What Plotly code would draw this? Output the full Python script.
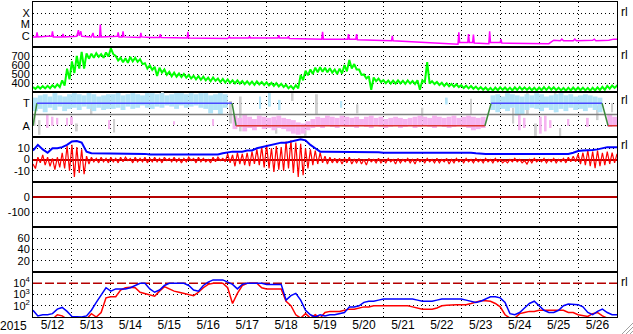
import plotly.graph_objects as go
from plotly.subplots import make_subplots

# ---------------- data (hours from 2015-05-12 00:00) ----------------
STEP_H = 3
day_labels = ["5/12", "5/13", "5/14", "5/15", "5/16", "5/17", "5/18", "5/19",
              "5/20", "5/21", "5/22", "5/23", "5/24", "5/25", "5/26"]

# GOES X-ray flux, log10 (W/m2), irregular samples (hour, value)
xray_t = [0, 2, 2.5, 3, 9, 11.5, 12, 12.5, 15, 18, 18.5, 19, 27, 28, 28.5, 29.5, 30,
          36, 37, 37.5, 41, 41.5, 42, 52, 52.5, 53, 55, 55.5, 56, 66, 66.5, 67, 72,
          78, 78.5, 79, 95, 95.5, 96, 120, 121, 121.5, 133, 133.5, 134, 151, 151.5,
          152, 157, 157.5, 158, 178, 178.5, 179, 194, 194.5, 195, 199, 199.5, 200,
          221, 221.5, 222, 260, 262, 262.5, 263, 268, 268.5, 269, 271, 271.5, 272,
          281, 281.5, 282, 288, 288.5, 289, 318, 320, 321, 325, 326, 327, 333, 334,
          335, 345, 346, 347, 355, 358, 360]
xray_log = [-6.1, -6.1, -5.7, -6.1, -6.05, -6.05, -5.6, -6.1, -6.1, -6.1, -5.85, -6.1,
            -6.05, -5.5, -6.0, -5.6, -6.05, -6.1, -5.75, -6.1, -6.1, -5.0, -6.1, -6.05,
            -5.7, -6.1, -6.1, -5.6, -6.1, -6.15, -5.75, -6.1, -6.15, -6.15, -5.85,
            -6.15, -6.2, -5.65, -6.2, -6.25, -6.1, -6.2, -6.2, -6.05, -6.2, -6.2,
            -5.95, -6.2, -6.2, -6.05, -6.25, -6.3, -5.65, -6.3, -6.3, -5.85, -6.3,
            -6.3, -5.85, -6.35, -6.45, -6.0, -6.45, -6.7, -6.75, -5.7, -6.6, -6.6,
            -5.85, -6.6, -6.6, -5.9, -6.65, -6.7, -5.6, -6.6, -6.6, -6.3, -6.65,
            -6.7, -6.5, -6.4, -6.45, -6.3, -6.45, -6.45, -6.3, -6.45, -6.4, -6.3,
            -6.45, -6.4, -6.3, -6.3]

# solar wind speed (km/s): highest and lowest value within each 3-hour bin
speed_hi = [
    355, 362, 365, 368, 375, 385, 430, 560,
    640, 700, 745, 730, 725, 730, 720, 740,
    785, 700, 680, 675, 690, 680, 665, 620,
    595, 580, 570, 550, 525, 515, 505, 500,
    490, 480, 475, 470, 460, 462, 450, 445,
    440, 430, 428, 422, 418, 415, 418, 412,
    408, 402, 398, 392, 380, 368, 375, 490,
    535, 550, 570, 575, 570, 565, 550, 560,
    600, 655, 610, 550, 495, 475, 462, 450,
    432, 428, 426, 430, 425, 428, 422, 430,
    430, 633, 420, 412, 402, 396, 390, 386,
    376, 370, 366, 360, 354, 350, 346, 350,
    352, 350, 348, 352, 356, 352, 350, 348,
    350, 354, 356, 352, 348, 346, 348, 350,
    350, 348, 346, 348, 352, 358, 368, 372,
    370]
speed_lo = [
    335, 338, 340, 342, 350, 355, 370, 440,
    510, 560, 560, 670, 680, 690, 680, 695,
    720, 650, 630, 625, 640, 635, 610, 560,
    545, 478, 515, 490, 475, 470, 465, 460,
    450, 440, 435, 430, 420, 425, 410, 405,
    402, 395, 392, 388, 384, 380, 384, 378,
    372, 368, 362, 356, 342, 335, 340, 430,
    485, 500, 520, 525, 520, 515, 500, 505,
    530, 560, 550, 490, 450, 325, 420, 410,
    398, 392, 394, 396, 390, 394, 388, 325,
    405, 394, 388, 378, 368, 364, 358, 354,
    344, 340, 336, 330, 325, 320, 316, 320,
    324, 320, 318, 322, 325, 323, 320, 318,
    320, 322, 325, 321, 318, 315, 317, 320,
    320, 318, 315, 317, 320, 325, 338, 345,
    345]

# IMF magnitude Bt (nT), 3-hour samples
imf_bt = [
    8, 13, 9, 6, 10, 10, 11, 13,
    16, 16.5, 15, 7, 5.5, 5.5, 5.5, 5.5,
    5.5, 5.5, 5.5, 5, 5, 5, 5, 5,
    4.5, 4.5, 4.5, 4.5, 4.5, 4.5, 4.5, 4.5,
    4.2, 4.2, 4.2, 4.2, 4.2, 4.2, 4.5, 5.5,
    6.5, 7, 7, 7, 8, 8, 10, 11,
    12, 13, 14, 15, 15, 16, 17, 18,
    17, 13, 10, 7, 7, 7, 7, 7,
    7, 7, 7, 7, 7, 6.8, 6.8, 6.5,
    6, 6, 6, 6, 6, 6, 6, 6.5,
    6.5, 6.5, 6.5, 6.5, 6.5, 6.5, 6.5, 6.5,
    6.5, 6.5, 6, 5.5, 5, 5, 5, 5,
    5, 5, 5, 5, 5, 5, 5, 5,
    5, 5, 5, 5, 5, 5, 5, 6,
    7.5, 8, 8, 8.5, 9, 10, 11, 11,
    11]
# IMF Bz (nT): highest and lowest value within each 3-hour bin
bz_hi = [
    -4, 2, 4, 2, 1, 2, 6, 12,
    13, 11, 9, 3, 2, 1, 2, 1,
    2, 1, 2, 2, 1, 2, 1, 2,
    1, 2, 1, 2, 1, 2, 1, 1,
    2, 1, 2, 1, 0, 2, 2, 1,
    5, 4, 6, 5, 6, 7, 9, 11,
    13, 10, 12, 11, 16, 17, 15, 14,
    10, 9, 8, 6, 3, 2, 1, 1,
    1, 2, 0, 1, 0, 1, 0, 1,
    0, 1, 0, 1, 0, 1, 0, 1,
    0, 1, 0, 1, 0, 1, 0, 1,
    0, 1, 0, 1, 0, 1, 0, 1,
    0, -1, 0, 1, 0, -1, 0, 1,
    0, 1, 0, 1, 0, 1, 2, 3,
    5, 6, 8, 7, 8, 6, 7, 6,
    5]
bz_lo = [
    -8, -3, -5, -6, -9, -7, -8, -10,
    -15.5, -12, -13, -4, -2, -3, -2, -3,
    -2, -3, -2, -1, -3, -2, -2, -3,
    -2, -2, -3, -1, -2, -2, -3, -2,
    -1, -3, -2, -2, -3, -2, -1, -2,
    -3, -6, -4, -5, -6, -4, -5, -7,
    -8, -11, -9, -10, -8, -12, -15.6, -14,
    -8, -5, -4, -3, -4, -3, -3, -4,
    -3, -4, -3, -4, -5, -2, -3, -3,
    -3, -2, -4, -3, -2, -3, -4, -2,
    -3, -2, -3, -3, -2, -4, -3, -2,
    -3, -2, -3, -2, -3, -2, -3, -2,
    -3, -3, -2, -2, -3, -4, -3, -2,
    -2, -3, -2, -3, -2, -3, -2, -2,
    -4, -5, -6, -7.6, -6, -5, -4, -3,
    -2]

# >2 MeV electron flux, log10 (two satellites), 3-hour samples
elec_blue_log = [
    1.6, 1.1, 1.2, 1.2, 1.3, 1.7, 1.85, 1.5,
    1.05, 1.0, 1.0, 1.1, 1.6, 2.3, 2.9, 3.6,
    3.3, 3.5, 3.5, 3.5, 3.6, 3.8, 4.0, 4.0,
    3.5, 3.2, 3.4, 3.8, 4.0, 4.0, 4.0, 4.0,
    3.8, 3.4, 3.3, 3.8, 4.1, 4.3, 4.3, 4.3,
    4.1, 3.9, 3.5, 3.9, 4.0, 4.0, 4.0, 4.0,
    3.9, 3.9, 3.9, 3.9, 2.5, 2.9, 3.1, 2.5,
    1.6, 1.2, 1.0, 1.2, 1.1, 1.2, 1.2, 1.3,
    1.4, 1.9, 1.9, 2.0, 2.3, 2.4, 2.4, 2.5,
    2.6, 2.6, 2.6, 2.6, 2.6, 2.6, 2.6, 2.5,
    2.4, 2.4, 2.4, 2.5, 2.6, 2.6, 2.6, 2.6,
    2.6, 2.5, 2.4, 2.3, 2.4, 2.6, 2.8, 2.8,
    2.7, 2.3, 1.3, 1.2, 1.4, 1.8, 2.2, 2.4,
    2.0, 1.6, 1.4, 1.4, 1.6, 2.0, 2.15, 2.15,
    2.1, 1.9, 1.4, 1.2, 1.5, 1.7, 1.4, 1.2,
    1.2]
elec_red_log = [
    0.8, 0.8, 0.8, 0.8, 0.8, 1.2, 1.1, 0.8,
    0.8, 0.8, 0.8, 0.8, 1.3, 1.0, 1.4, 2.7,
    2.8, 2.8, 3.4, 3.6, 3.65, 3.6, 3.2, 3.1,
    3.0, 2.85, 3.3, 3.7, 3.5, 3.3, 3.2, 3.1,
    3.0, 2.9, 3.2, 3.6, 3.9, 4.0, 4.0, 4.0,
    3.6, 2.2, 3.1, 3.8, 4.0, 4.0, 4.0, 3.6,
    3.5, 3.5, 3.5, 3.5, 2.4, 2.0, 1.2, 0.9,
    1.3, 0.9, 1.2, 0.9, 1.4, 1.5, 1.5, 1.5,
    1.6, 1.7, 1.7, 1.8, 1.9, 1.9, 2.0, 2.0,
    2.0, 2.0, 2.0, 2.0, 2.0, 2.0, 1.9, 1.8,
    1.7, 1.7, 1.7, 1.8, 2.0, 2.05, 2.1, 2.1,
    2.1, 2.1, 2.2, 2.3, 2.45, 2.45, 2.4, 2.2,
    1.9, 1.2, 0.9, 0.9, 1.3, 1.4, 1.5, 1.5,
    1.6, 1.6, 1.6, 1.6, 1.6, 1.6, 1.4, 1.4,
    1.2, 1.1, 1.05, 1.3, 1.4, 1.1, 0.9, 0.9,
    0.9]

# magnetic sector (1 = A / away, 3 = T / toward), breakpoints in hours
sector_t = [0, 2.4, 122.7, 125.2, 278.6, 282.4, 350.8, 354.5, 360]
sector_v = [1, 3, 3, 1, 1, 3, 3, 1, 1]

# IMF direction clouds, 3-hour bins: (start hour, lows, highs)
toward1_start = 0
toward1_hi = [3.5, 3.7, 3.8, 3.6, 3.9, 3.7, 3.6, 3.8, 3.9, 3.8, 3.7, 3.9, 3.8, 3.6,
              3.7, 3.8, 3.8, 3.9, 3.7, 3.8, 3.9, 3.8, 3.7, 3.9, 3.9, 3.8, 3.9, 3.7,
              3.8, 3.9, 3.9, 3.8, 3.9, 3.8, 3.9, 3.9, 3.7, 3.8, 3.9, 3.8]
toward1_lo = [2.3, 2.5, 2.2, 2.6, 2.4, 2.7, 2.3, 2.5, 2.6, 2.4, 2.7, 2.5, 2.3, 2.6,
              2.4, 2.5, 2.5, 2.6, 2.4, 2.7, 2.5, 2.6, 2.8, 2.6, 2.5, 2.7, 2.6, 2.8,
              2.7, 2.5, 2.8, 2.6, 2.7, 2.8, 2.6, 2.5, 2.1, 2.4, 2.0, 2.6]
away1_start = 123
away1_hi = [1.9, 1.7, 2.0, 1.8, 1.6, 1.9, 1.8, 1.7, 1.8, 1.9, 1.7, 1.6, 1.5, 1.3,
            1.2, 1.4, 1.6, 1.8, 1.7, 1.9, 1.8, 1.7, 1.9, 1.8, 1.7, 1.8, 1.6, 1.8,
            1.9, 1.7, 1.8, 1.6, 1.7, 1.8, 1.7, 1.6, 1.7, 1.8, 1.9, 1.8, 1.7, 1.9,
            1.8, 1.7, 1.8, 1.9, 1.7, 1.8, 1.9, 1.8, 1.7, 1.8]
away1_lo = [0.7, 0.9, 0.5, 0.8, 0.6, 0.9, 0.7, 0.8, 0.6, 0.8, 0.7, 0.5, 0.3, 0.2,
            0.3, 0.6, 0.8, 0.9, 0.8, 1.0, 0.9, 0.8, 1.0, 0.9, 0.9, 0.8, 1.0, 0.9,
            0.8, 1.0, 0.9, 0.8, 0.9, 1.0, 0.8, 0.9, 1.0, 0.8, 0.9, 1.0, 0.9, 0.8,
            1.0, 0.9, 0.8, 0.9, 1.0, 0.9, 0.8, 0.6, 0.7, 0.8]
toward2_start = 282
toward2_hi = [3.7, 3.8, 3.6, 3.9, 3.8, 3.7, 3.6, 3.8, 3.7, 3.9, 3.8, 3.6, 3.7, 3.8,
              3.9, 3.7, 3.8, 3.6, 3.7, 3.8, 3.7, 3.6, 3.5]
toward2_lo = [2.4, 2.2, 2.5, 2.3, 2.6, 1.9, 2.0, 2.4, 2.6, 2.5, 2.3, 2.6, 2.4, 2.2,
              2.5, 2.3, 2.6, 2.4, 2.5, 2.3, 2.6, 2.4, 2.2]
away2_start = 354
away2_hi = [2.0, 1.8]
away2_lo = [0.9, 1.0]

# scattered extra points: hour, low, high
pink_extra_t = [9, 12, 15, 21, 24, 47, 87, 111, 300, 303, 313, 316, 319, 330, 342]
pink_extra_lo = [0.8, 1.0, 1.1, 1.0, 1.1, 0.7, 1.1, 1.0, 0.6, 0.8, 0.3, 0.5, 0.8, 1.0, 0.9]
pink_extra_hi = [2.0, 1.8, 1.7, 1.7, 1.8, 1.5, 1.4, 1.6, 2.0, 1.7, 1.8, 1.9, 1.5, 1.6, 1.7]
cyan_extra_t = [140, 146, 152, 190, 255]
cyan_extra_lo = [2.5, 2.7, 2.4, 2.6, 2.9]
cyan_extra_hi = [3.6, 3.9, 3.3, 3.2, 3.5]
gray_extra_t = [1, 4, 27, 36, 50, 80, 122, 128, 150, 160, 168, 175, 200, 240, 270,
                296, 305, 310, 322, 325, 348, 357]
gray_extra_lo = [1.0, 0.2, 0.5, 2.0, 0.4, 3.6, 1.2, 0.5, 0.3, 3.2, 0.1, 2.0, 2.1, 1.6,
                 2.0, 1.2, 2.0, 0.1, 2.2, 0.0, 1.5, 2.2]
gray_extra_hi = [2.0, 1.5, 1.2, 3.0, 1.6, 4.0, 3.2, 3.6, 1.5, 3.9, 0.6, 3.8, 2.9, 2.6,
                 3.4, 2.6, 3.9, 1.2, 3.9, 0.8, 2.8, 3.0]

# ---------------- figure ----------------
t = [i * STEP_H for i in range(len(imf_bt))]
FONT = "Liberation Sans, Arial, Helvetica, sans-serif"
DOT = "1px,3px"
DARKRED = "#b40000"

fig = make_subplots(rows=7, cols=1, shared_xaxes=True, vertical_spacing=0)

def line(x, y, color, width, row, shape="linear", dash=None):
    fig.add_trace(go.Scatter(x=x, y=y, mode="lines",
                             line=dict(color=color, width=width, shape=shape, dash=dash),
                             hoverinfo="skip", showlegend=False), row=row, col=1)

def envelope(hi, lo):
    """trace sweeping each 3-hour bin's high value then its low value"""
    xs, ys = [], []
    for ti, h, l in zip(t, hi, lo):
        xs += [ti, ti + STEP_H / 2]
        ys += [h, l]
    return xs, ys

def cloud(start, lo, hi, color, row=3, width=STEP_H):
    xs = [start + width * (i + 0.5) for i in range(len(lo))]
    fig.add_trace(go.Bar(x=xs, y=[h - l for h, l in zip(hi, lo)], base=lo,
                         width=width, marker=dict(color=color, line=dict(width=0)),
                         hoverinfo="skip", showlegend=False), row=row, col=1)

def cloud_pts(xs, lo, hi, color, row=3):
    fig.add_trace(go.Bar(x=xs, y=[h - l for h, l in zip(hi, lo)], base=lo,
                         width=1.2, marker=dict(color=color, line=dict(width=0)),
                         hoverinfo="skip", showlegend=False), row=row, col=1)

# panel 1: X-ray
line(xray_t, [10 ** v for v in xray_log], "#ff00ff", 1.5, 1)
# panel 2: solar wind speed
sx, sy = envelope(speed_hi, speed_lo)
line(sx, sy, "#00ff00", 2, 2)
# panel 3: sector
CYAN, PINK, GRAY = "#b2e4f8", "#f6b4f0", "#cfcfcf"
cloud_pts(gray_extra_t, gray_extra_lo, gray_extra_hi, GRAY)
cloud(toward1_start, toward1_lo, toward1_hi, CYAN)
cloud(toward2_start, toward2_lo, toward2_hi, CYAN)
cloud(away1_start, away1_lo, away1_hi, PINK)
cloud(away2_start, away2_lo, away2_hi, PINK)
cloud_pts(cyan_extra_t, cyan_extra_lo, cyan_extra_hi, CYAN)
cloud_pts(pink_extra_t, pink_extra_lo, pink_extra_hi, PINK)
line([t[0], t[-1]], [2, 2], "#808080", 1.5, 3)
for i in range(len(sector_t) - 1):
    v0, v1 = sector_v[i], sector_v[i + 1]
    c = "#4848ff" if (v0 == v1 == 3) else ("#dd3333" if v0 == v1 == 1 else "#3c8a3c")
    line(sector_t[i:i + 2], sector_v[i:i + 2], c, 1.5, 3)
# panel 4: IMF
bx, by = envelope(bz_hi, bz_lo)
line(bx, by, "#ff0000", 1.2, 4)
line(t, imf_bt, "#0000ff", 2, 4)
# panels 5, 6: empty (keep axes drawn)
for r in (5, 6):
    fig.add_trace(go.Scatter(x=[t[0]], y=[0 if r == 5 else 40], mode="markers",
                             marker=dict(opacity=0), hoverinfo="skip",
                             showlegend=False), row=r, col=1)
# panel 7: electrons
line([t[0], t[-1]], [1e4, 1e4], DARKRED, 1.5, 7, dash="9px,3px")
line(t, [10 ** v for v in elec_red_log], "#ff0000", 1.5, 7)
line(t, [10 ** v for v in elec_blue_log], "#0000ff", 1.5, 7)

fig.update_layout(width=633, height=334, margin=dict(l=33, r=16, t=2, b=17),
                  template="none", plot_bgcolor="white", paper_bgcolor="white",
                  barmode="overlay", showlegend=False,
                  font=dict(family=FONT, size=12, color="black"))

fig.update_xaxes(range=[0, 360], tickmode="array",
                 tickvals=[12 + 24 * i for i in range(len(day_labels))],
                 ticktext=day_labels, ticks="", showgrid=False, zeroline=False,
                 showline=True, linecolor="black", linewidth=1, mirror=True,
                 tickfont=dict(size=12), ticklabelstandoff=-3,
                 minor=dict(tickmode="linear", tick0=0, dtick=24, showgrid=True,
                            gridcolor="black", griddash=DOT, gridwidth=1, ticks=""))
for r in range(1, 7):
    fig.update_xaxes(showticklabels=False, row=r, col=1)

common_y = dict(ticks="", showgrid=True, gridcolor="black", griddash=DOT, gridwidth=1,
                showline=True, linecolor="black", linewidth=1, mirror=True,
                zeroline=False, tickfont=dict(size=11), tickmode="array", fixedrange=True)
fig.update_yaxes(**common_y)
fig.update_yaxes(type="log", range=[-7, -3], tickvals=[1e-6, 1e-5, 1e-4],
                 ticktext=["C", "M", "X"], row=1, col=1)
fig.update_yaxes(range=[300, 800], tickvals=[400, 500, 600, 700],
                 ticktext=["400", "500", "600", "700"], row=2, col=1)
fig.update_yaxes(range=[0, 4], tickvals=[1, 3], ticktext=["A", "T"], row=3, col=1)
fig.update_yaxes(range=[-20, 20], tickvals=[-10, 0, 10], ticktext=["-10", "0", "10"],
                 zeroline=True, zerolinecolor=DARKRED, zerolinewidth=1.5, row=4, col=1)
fig.update_yaxes(range=[-200, 100], tickvals=[-100, 0], ticktext=["-100", "0"],
                 zeroline=True, zerolinecolor=DARKRED, zerolinewidth=1.5, row=5, col=1)
fig.update_yaxes(range=[0, 80], tickvals=[20, 40, 60], ticktext=["20", "40", "60"],
                 row=6, col=1)
fig.update_yaxes(type="log", range=[1, 5], tickvals=[1e2, 1e3, 1e4],
                 ticktext=["10<sup>2</sup>", "10<sup>3</sup>", "10<sup>4</sup>"],
                 row=7, col=1)

# "rl" markers on the right
for yref, yfrac in [("y domain", 0.78), ("y2 domain", 0.82), ("y3 domain", 0.82),
                    ("y4 domain", 0.82), ("y7 domain", 0.78)]:
    fig.add_annotation(text="rl", xref="paper", x=1, xanchor="left", xshift=2,
                       yref=yref, y=yfrac, yanchor="middle", showarrow=False,
                       font=dict(size=12))
fig.add_annotation(text="2015", xref="paper", x=0, xanchor="right", xshift=-4,
                   yref="paper", y=0, yanchor="top", yshift=0, showarrow=False,
                   font=dict(size=12))

# window resize grip in the bottom-right corner
px_x = lambda p: (p - 33) / 584
px_y = lambda p: (317 - p) / 315
for a, b in [(323, 622), (327, 626), (331, 630)]:
    fig.add_shape(type="line", xref="paper", yref="paper",
                  x0=px_x(633), y0=px_y(a), x1=px_x(b), y1=px_y(334),
                  line=dict(color="#a0a0a0", width=1))

fig.write_html("out.html")
